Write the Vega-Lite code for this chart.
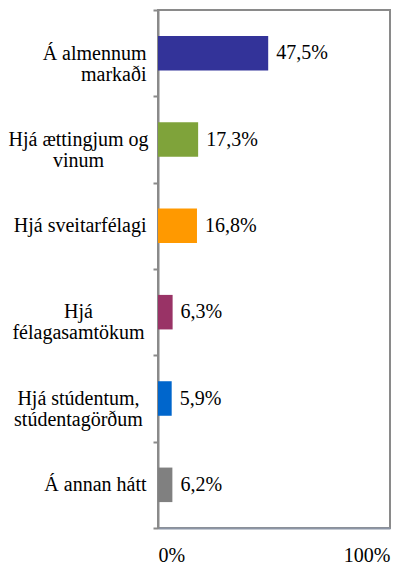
{
  "$schema": "https://vega.github.io/schema/vega-lite/v6.json",
  "autosize": "none",
  "padding": {"left": 158, "top": 10, "right": 25, "bottom": 42},
  "width": 232,
  "height": 518,
  "config": {
    "locale": {"number": {"decimal": ",", "thousands": ".", "grouping": [3], "currency": ["", " kr."]}},
    "view": {"stroke": "#8a8a8a", "strokeWidth": 2},
    "font": "Liberation Sans Narrow",
    "axis": {"labelFont": "Liberation Sans Narrow", "labelFontSize": 20, "labelColor": "#000"}
  },
  "data": {"values": [
    {"cat": "Á almennum|markaði", "value": 0.475, "color": "#333399"},
    {"cat": "Hjá ættingjum og|vinum", "value": 0.173, "color": "#7FA33A"},
    {"cat": "Hjá sveitarfélagi", "value": 0.168, "color": "#FF9900"},
    {"cat": "Hjá|félagasamtökum", "value": 0.063, "color": "#993366"},
    {"cat": "Hjá stúdentum,|stúdentagörðum", "value": 0.059, "color": "#0066CC"},
    {"cat": "Á annan hátt", "value": 0.062, "color": "#808080"}
  ]},
  "encoding": {
    "x": {"field": "value", "type": "quantitative",
      "scale": {"domain": [0, 1]},
      "axis": {"title": null, "values": [0, 1], "format": ".0%", "grid": false, "ticks": false,
        "domain": true, "domainColor": "#8c95a6", "domainWidth": 2, "labelPadding": 17}}
  },
  "resolve": {"axis": {"y": "independent"}},
  "layer": [
    {"mark": {"type": "bar", "height": {"band": 0.4}},
      "encoding": {
        "y": {"field": "cat", "type": "nominal", "sort": null,
          "scale": {"paddingInner": 0, "paddingOuter": 0},
          "axis": {"title": null, "orient": "left", "tickBand": "extent",
            "labelExpr": "indexof(['Hjá ættingjum og|vinum', 'Hjá|félagasamtökum', 'Hjá stúdentum,|stúdentagörðum'], datum.label) >= 0 ? '' : split(datum.label, '|')",
            "labelLineHeight": 21, "labelPadding": 7, "labelAlign": "right",
            "tickSize": 5, "tickColor": "#8a8a8a", "tickWidth": 2, "domainColor": "#8a8a8a", "domainWidth": 2}},
        "color": {"field": "color", "type": "nominal", "scale": null}}},
    {"mark": {"type": "text", "align": "left", "dx": 8, "fontSize": 20, "color": "#000", "font": "Liberation Sans Narrow"},
      "encoding": {
        "y": {"field": "cat", "type": "nominal", "sort": null,
          "axis": {"title": null, "orient": "left", "ticks": false, "domain": false,
            "labelExpr": "indexof(['Hjá ættingjum og|vinum', 'Hjá|félagasamtökum', 'Hjá stúdentum,|stúdentagörðum'], datum.label) >= 0 ? split(datum.label, '|') : ''",
            "labelLineHeight": 21, "labelPadding": 80, "labelAlign": "center"}},
        "text": {"field": "value", "type": "quantitative", "format": ".1%"}}}
  ]
}
